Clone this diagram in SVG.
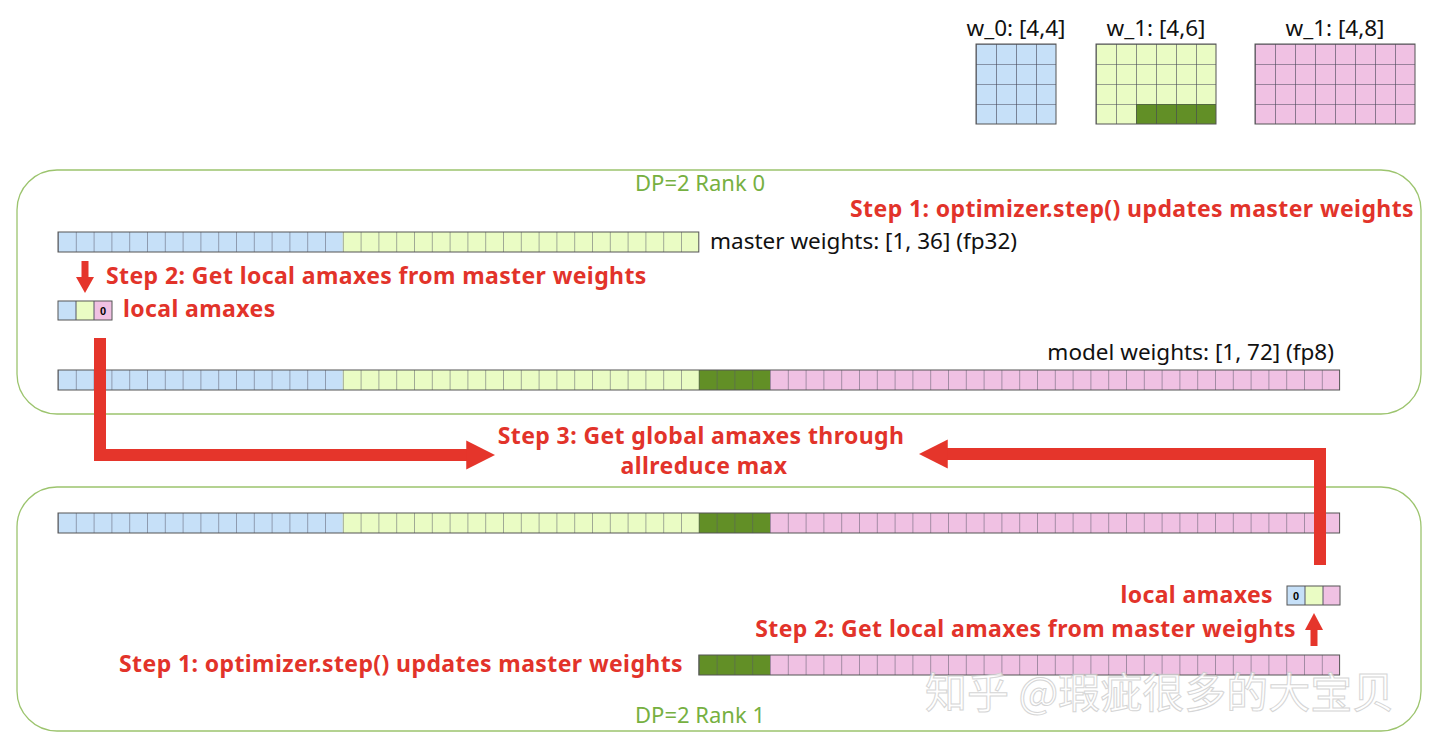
<svg xmlns="http://www.w3.org/2000/svg" width="1440" height="753" viewBox="0 0 1440 753">
<style>
.t{font-family:"Noto Sans","Liberation Sans",sans-serif;font-size:22.5px;fill:#111}
.r{font-family:"Noto Sans","Liberation Sans",sans-serif;font-size:23px;letter-spacing:0.4px;font-weight:bold;fill:#e2332a}
.g{font-family:"Noto Sans","Liberation Sans",sans-serif;font-size:22px;fill:#76b041}
.box{fill:none;stroke:#9cc46e;stroke-width:1.3}
.b{fill:#c6e0f8}.y{fill:#eafcc4}.d{fill:#628f26}.p{fill:#f0c1e3}
.o{fill:none;stroke:#555;stroke-width:1}
.arr{fill:none;stroke:#e5352b;stroke-width:12}
</style>
<defs>
<pattern id="vl" patternUnits="userSpaceOnUse" x="58" y="0" width="17.8" height="753"><line x1="0" y1="0" x2="0" y2="753" stroke="#556" stroke-width="1"/></pattern>
<pattern id="g0" patternUnits="userSpaceOnUse" x="976" y="44" width="20" height="20"><path d="M0 0H20M0 0V20" stroke="#445" stroke-width="1.2" fill="none"/></pattern>
<pattern id="g2" patternUnits="userSpaceOnUse" x="1255" y="44" width="20" height="20"><path d="M0 0H20M0 0V20" stroke="#445" stroke-width="1.2" fill="none"/></pattern>
<marker id="ah" viewBox="0 0 10 10" refX="2" refY="5" markerWidth="2.4" markerHeight="2.6" orient="auto" markerUnits="strokeWidth"><path d="M0 0L10 5L0 10z" fill="#e5352b"/></marker>
</defs>

<g id="matrices">
<text class="t" x="1016" y="36" text-anchor="middle">w_0: [4,4]</text>
<rect class="b" x="976" y="44" width="80" height="80"/><rect x="976" y="44" width="80" height="80" fill="url(#g0)"/><rect class="o" x="976" y="44" width="80" height="80"/>
<text class="t" x="1156" y="36" text-anchor="middle">w_1: [4,6]</text>
<rect class="y" x="1096" y="44" width="120" height="80"/><rect class="d" x="1136" y="104" width="80" height="20"/><rect x="1096" y="44" width="120" height="80" fill="url(#g0)"/><rect class="o" x="1096" y="44" width="120" height="80"/>
<text class="t" x="1335" y="36" text-anchor="middle">w_1: [4,8]</text>
<rect class="p" x="1255" y="44" width="160" height="80"/><rect x="1255" y="44" width="160" height="80" fill="url(#g2)"/><rect class="o" x="1255" y="44" width="160" height="80"/>
</g>

<g id="rank0">
<rect class="box" x="17" y="170" width="1404" height="244" rx="40"/>
<text class="g" x="700" y="191" text-anchor="middle">DP=2 Rank 0</text>
<text class="r" x="1414" y="217" text-anchor="end">Step 1: optimizer.step() updates master weights</text>
<g id="master0">
<rect class="b" x="58" y="232" width="284.8" height="20"/><rect class="y" x="342.8" y="232" width="356" height="20"/>
<rect x="58" y="232" width="640.8" height="20" fill="url(#vl)"/><rect class="o" x="58" y="232" width="640.8" height="20"/>
<text class="t" x="710" y="249">master weights: [1, 36] (fp32)</text>
</g>
<text class="r" x="106" y="284">Step 2: Get local amaxes from master weights</text>
<g id="amax0">
<rect class="b" x="58" y="301" width="18" height="19"/><rect class="y" x="76" y="301" width="18" height="19"/><rect class="p" x="94" y="301" width="18" height="19"/>
<path d="M76 301V320M94 301V320" stroke="#556"/><rect class="o" x="58" y="301" width="54" height="19"/>
<text x="103" y="315" text-anchor="middle" font-family="Liberation Sans,sans-serif" font-size="11" font-weight="bold">0</text>
<text class="r" x="123" y="317">local amaxes</text>
</g>
<g id="model0">
<text class="t" x="1334" y="360" text-anchor="end">model weights: [1, 72] (fp8)</text>
<rect class="b" x="58" y="370" width="284.8" height="20"/><rect class="y" x="342.8" y="370" width="356" height="20"/><rect class="d" x="698.8" y="370" width="71.2" height="20"/><rect class="p" x="770" y="370" width="569.6" height="20"/>
<rect x="58" y="370" width="1281.6" height="20" fill="url(#vl)"/><rect class="o" x="58" y="370" width="1281.6" height="20"/>
</g>
</g>

<g id="rank1">
<rect class="box" x="17" y="487" width="1404" height="244" rx="40"/>
<text class="g" x="700" y="723" text-anchor="middle">DP=2 Rank 1</text>
<g id="model1">
<rect class="b" x="58" y="513" width="284.8" height="20"/><rect class="y" x="342.8" y="513" width="356" height="20"/><rect class="d" x="698.8" y="513" width="71.2" height="20"/><rect class="p" x="770" y="513" width="569.6" height="20"/>
<rect x="58" y="513" width="1281.6" height="20" fill="url(#vl)"/><rect class="o" x="58" y="513" width="1281.6" height="20"/>
</g>
<g id="amax1">
<rect class="b" x="1287" y="586" width="18" height="19"/><rect class="y" x="1305" y="586" width="18" height="19"/><rect class="p" x="1323" y="586" width="17" height="19"/>
<path d="M1305 586V605M1323 586V605" stroke="#556"/><rect class="o" x="1287" y="586" width="53" height="19"/>
<text x="1296" y="600" text-anchor="middle" font-family="Liberation Sans,sans-serif" font-size="11" font-weight="bold">0</text>
<text class="r" x="1273" y="603" text-anchor="end">local amaxes</text>
</g>
<text class="r" x="1296" y="637" text-anchor="end">Step 2: Get local amaxes from master weights</text>
<text class="r" x="683" y="672" text-anchor="end">Step 1: optimizer.step() updates master weights</text>
<g id="master1">
<rect class="d" x="698.8" y="655" width="71.2" height="20"/><rect class="p" x="770" y="655" width="569.6" height="20"/>
<rect x="698.8" y="655" width="640.8" height="20" fill="url(#vl)"/><rect class="o" x="698.8" y="655" width="640.8" height="20"/>
</g>
</g>

<g id="step3">
<text class="r" x="701" y="444" text-anchor="middle">Step 3: Get global amaxes through</text>
<text class="r" x="704" y="474" text-anchor="middle">allreduce max</text>
</g>

<g id="connectors">
<path class="arr" d="M100 338V455H472" marker-end="url(#ah)"/>
<path class="arr" d="M1320 565V454H942" marker-end="url(#ah)"/>
<path d="M85 261V279" stroke="#e5352b" stroke-width="7"/><path d="M76 277L85 293L94 277z" fill="#e5352b"/>
<path d="M1314 646V628" stroke="#e5352b" stroke-width="7"/><path d="M1305 630L1314 613L1323 630z" fill="#e5352b"/>
</g>

<text x="925" y="708" font-family="Noto Sans CJK SC,sans-serif" font-size="42" fill="#fff" stroke="#ccc" stroke-width="1" opacity="0.8">知乎 @瑕疵很多的大宝贝</text>
</svg>
